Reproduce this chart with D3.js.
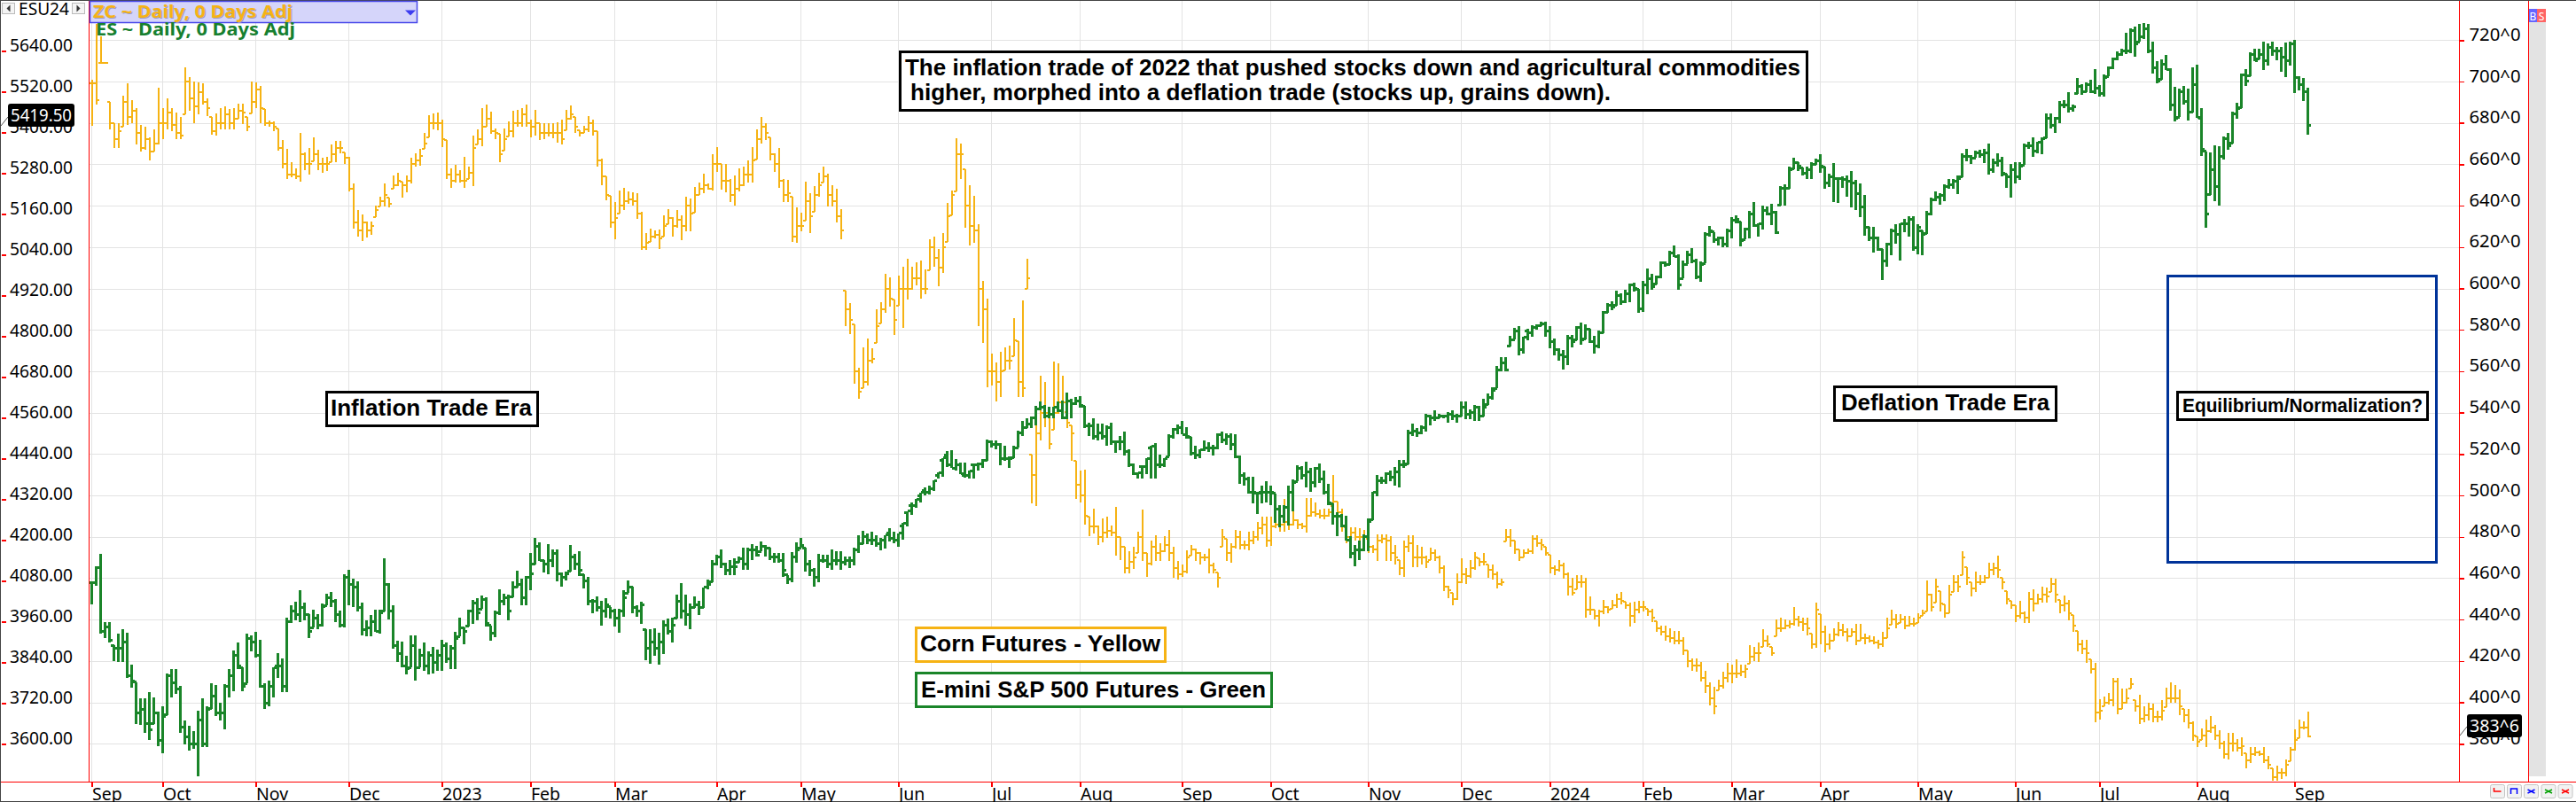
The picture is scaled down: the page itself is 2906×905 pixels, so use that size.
<!DOCTYPE html>
<html>
<head>
<meta charset="utf-8">
<script src="https://cdnjs.cloudflare.com/ajax/libs/d3/7.8.5/d3.min.js"></script>
<style>
html,body{margin:0;padding:0;background:#fff;overflow:hidden}
svg{display:block}
</style>
</head>
<body>
<svg id="chart" width="2906" height="905"></svg>
<script>
const esHigh=[
4077,4122,4159,3959,3959,3890,3925,3938,3926,3833,3781,3733,3733,3751,3736,3694,3711,3807,3820,3820,3771,3668,3652,3637,3698,
3733,3711,3777,3772,3720,3776,3820,3874,3898,3824,3923,3920,3929,3907,3777,3785,3824,3866,3851,3972,4007,4018,4052,4016,3981,
3994,3981,4012,4042,4046,4025,3991,4098,4112,4085,4077,4016,3964,3978,3994,3994,4146,4072,4009,3903,3901,3859,3920,3920,3881,
3898,3872,3885,3877,3907,3898,3890,3929,3972,3942,3994,4023,4029,4036,4032,3948,3992,4055,4042,4040,4077,4109,4087,4094,4162,
4207,4194,4142,4188,4172,4171,4103,4107,4186,4159,4168,4099,4090,4025,4035,4022,4029,4003,3997,3997,4052,4081,4063,4007,4017,
3937,3937,3939,3927,3964,3969,3971,4039,4074,4039,4012,4033,4022,4060,4083,4140,4156,4172,4134,4140,4145,4150,4177,4177,4188,
4182,4195,4184,4177,4161,4161,4161,4097,4163,4193,4206,4177,4140,4118,4159,4156,4156,4172,4166,4166,4150,4150,4177,4214,4227,
4219,4225,4215,4205,4215,4235,4225,4220,4250,4285,4310,4320,4340,4355,4360,4375,4398,4442,4461,4464,4437,4429,4429,4403,4424,
4429,4437,4496,4494,4494,4485,4477,4446,4477,4522,4550,4559,4563,4594,4609,4598,4591,4591,4609,4611,4635,4616,4620,4623,4594,
4546,4559,4542,4542,4538,4544,4494,4507,4518,4468,4424,4397,4420,4440,4477,4485,4450,4440,4511,4530,4541,4550,4533,4503,4477,
4468,4494,4487,4481,4513,4518,4513,4513,4511,4448,4398,4385,4385,4337,4359,4372,4359,4337,4303,4303,4359,4377,4420,4417,4431,
4411,4414,4424,4403,4365,4307,4281,4277,4272,4211,4185,4198,4216,4263,4342,4391,4385,4398,4403,4414,4435,4435,4524,4542,4529,
4537,4572,4568,4581,4572,4568,4577,4581,4572,4609,4607,4585,4598,4596,4616,4631,4650,4711,4739,4737,4800,4824,4830,4798,4822,
4833,4835,4842,4842,4829,4794,4765,4759,4804,4804,4829,4839,4836,4822,4802,4817,4875,4898,4903,4933,4927,4936,4956,4958,4939,
4963,4998,4983,4979,5020,5020,5050,5066,5042,5023,5052,5059,5029,5020,5107,5124,5107,5094,5094,5116,5150,5156,5137,5120,5168,
5194,5133,5183,5181,5190,5168,5242,5246,5298,5324,5311,5296,5298,5313,5322,5335,5298,5277,5310,5268,5270,5272,5285,5259,5249,
5216,5122,5122,5094,5057,5076,5116,5129,5133,5146,5153,5153,5129,5111,5168,5209,5226,5220,5246,5263,5263,5272,5337,5350,5333,
5346,5348,5350,5368,5322,5339,5327,5277,5307,5313,5313,5368,5372,5385,5372,5385,5455,5455,5444,5492,5494,5518,5481,5559,5542,
5548,5555,5585,5539,5570,5594,5620,5637,5646,5692,5707,5710,5720,5722,5720,5666,5609,5616,5629,5588,5533,5529,5536,5529,5590,
5600,5472,5344,5342,5361,5359,5387,5398,5461,5488,5572,5587,5635,5646,5646,5666,5661,5668,5652,5650,5664,5668,5672,5565,5559,5532];
const esLow=[
4010,4064,3925,3910,3898,3844,3842,3842,3794,3764,3659,3655,3633,3611,3659,3594,3572,3685,3737,3746,3633,3598,3581,3585,3503,
3590,3590,3703,3681,3668,3642,3737,3755,3820,3755,3777,3872,3855,3764,3703,3711,3737,3794,3751,3751,3955,3964,3959,3964,3911,
3942,3938,3945,4007,4003,3959,3942,3942,4007,4003,3990,3920,3916,3916,3929,3925,3990,3965,3881,3842,3826,3803,3824,3787,3824,
3816,3803,3807,3816,3816,3838,3820,3820,3916,3892,3946,3953,3964,3997,3946,3903,3913,3979,4007,3964,4032,4059,4007,4007,4051,
4129,4138,4103,4099,4120,4077,4062,4081,4107,4112,4094,4058,4007,3983,3990,3948,3972,3968,3946,3926,3975,4044,3985,3975,3954,
3847,3836,3860,3833,3863,3921,3897,3969,3969,3948,3937,3999,3980,4001,4055,4076,4124,4118,4097,4097,4097,4134,4113,4113,4140,
4150,4166,4150,4140,4134,4134,4092,4070,4076,4134,4177,4108,4095,4063,4076,4134,4118,4113,4124,4113,4124,4118,4124,4161,4188,
4188,4185,4180,4170,4175,4195,4190,4180,4200,4240,4275,4295,4310,4330,4335,4345,4381,4385,4416,4411,4403,4394,4383,4381,4381,
4403,4411,4433,4472,4468,4420,4433,4411,4442,4472,4507,4529,4529,4538,4581,4559,4559,4559,4577,4555,4555,4557,4598,4590,4529,
4505,4496,4494,4496,4478,4481,4457,4464,4449,4416,4390,4381,4381,4394,4381,4381,4411,4415,4446,4498,4510,4511,4498,4449,4437,
4442,4461,4459,4449,4468,4485,4481,4464,4442,4365,4359,4337,4307,4277,4307,4311,4303,4250,4237,4250,4242,4285,4372,4377,4355,
4342,4355,4368,4333,4303,4246,4211,4237,4198,4146,4122,4142,4168,4168,4259,4329,4365,4365,4372,4359,4355,4411,4423,4507,4503,
4511,4520,4537,4550,4559,4557,4546,4553,4544,4563,4555,4555,4550,4550,4563,4598,4614,4646,4696,4696,4770,4790,4744,4748,4788,
4798,4820,4829,4798,4765,4743,4727,4702,4715,4768,4788,4774,4791,4779,4748,4763,4809,4868,4876,4890,4892,4898,4901,4930,4868,
4870,4924,4937,4953,4970,5003,5009,5033,4937,4970,5011,5014,4968,4959,5014,5094,5076,5068,5061,5061,5089,5133,5064,5085,5087,
5122,5094,5113,5155,5127,5101,5185,5185,5233,5292,5287,5272,5263,5263,5303,5281,5235,5240,5194,5191,5237,5211,5179,5172,5150,
5096,5081,5046,5050,4965,5005,5037,5072,5023,5107,5094,5050,5042,5037,5101,5155,5198,5188,5197,5235,5233,5217,5268,5316,5307,
5324,5324,5310,5275,5281,5298,5270,5237,5207,5249,5261,5304,5350,5329,5339,5336,5383,5411,5397,5426,5472,5459,5461,5513,5511,
5518,5516,5513,5504,5504,5565,5585,5611,5626,5631,5633,5623,5666,5675,5633,5572,5544,5555,5583,5464,5433,5444,5481,5435,5457,
5443,5330,5120,5216,5197,5183,5320,5348,5368,5439,5472,5537,5566,5609,5616,5583,5597,5624,5611,5577,5562,5597,5516,5524,5492,5394];
const esClose=[
4075,4118,3930,3945,3905,3880,3880,3900,3800,3785,3690,3700,3660,3640,3690,3610,3680,3800,3780,3760,
3650,3620,3600,3600,3670,3600,3700,3740,3690,3690,3770,3800,3860,3830,3770,3910,3900,3860,3770,3720,
3770,3830,3830,3770,3960,3990,3980,4000,3980,3930,3970,3950,4005,4030,4020,3980,3950,4090,4070,4060,
4000,3935,3940,3960,3930,3985,4070,3990,3890,3865,3830,3820,3890,3825,3860,3830,3860,3840,3860,3890,
3850,3880,3910,3940,3930,3990,4015,3985,4025,3955,3925,3985,4020,4030,3990,4060,4070,4030,4090,4100,
4180,4140,4130,4140,4160,4100,4090,4100,4150,4130,4110,4080,4020,4020,4000,3990,4010,3990,3970,3990,
4030,4060,4000,3990,4010,3880,3900,3880,3900,3950,3930,3950,4020,3990,3980,4000,4010,4000,4060,4070,
4130,4150,4130,4110,4120,4120,4145,4130,4170,4170,4155,4180,4175,4150,4150,4140,4110,4085,4150,4170,
4185,4130,4110,4090,4140,4140,4130,4140,4140,4135,4140,4140,4170,4190,4210,4200,4200,4190,4200,4220,
4205,4200,4240,4280,4300,4300,4330,4345,4340,4350,4390,4435,4450,4420,4410,4420,4390,4390,4420,4420,
4425,4435,4490,4480,4480,4440,4440,4440,4470,4515,4530,4540,4560,4585,4590,4565,4570,4590,4580,4560,
4610,4600,4610,4595,4535,4535,4505,4515,4505,4530,4490,4490,4490,4460,4420,4395,4415,4415,4470,4475,
4420,4420,4440,4505,4525,4530,4510,4505,4455,4450,4465,4470,4470,4470,4510,4495,4505,4480,4445,4390,
4380,4340,4340,4340,4340,4340,4340,4290,4270,4295,4340,4370,4410,4390,4400,4370,4410,4380,4340,4310,
4270,4270,4240,4200,4160,4170,4170,4210,4255,4340,4375,4375,4395,4385,4400,4420,4420,4515,4520,4515,
4530,4565,4560,4560,4565,4565,4570,4565,4565,4590,4570,4575,4590,4565,4590,4620,4640,4700,4720,4700,
4790,4815,4760,4815,4810,4825,4830,4835,4815,4785,4760,4745,4740,4795,4785,4825,4790,4820,4785,4770,
4810,4870,4890,4885,4920,4900,4925,4950,4940,4880,4950,4970,4945,4975,5015,5010,5045,5035,4950,5010,
5040,5020,4975,5010,5100,5110,5085,5090,5070,5110,5140,5145,5080,5115,5160,5125,5130,5170,5160,5165,
5105,5235,5235,5290,5310,5300,5280,5290,5305,5315,5300,5250,5270,5265,5265,5260,5255,5250,5220,5180,
5120,5090,5090,5055,5020,5070,5110,5100,5130,5130,5145,5060,5120,5100,5160,5200,5210,5215,5240,5245,
5255,5265,5330,5330,5325,5340,5335,5340,5290,5310,5315,5280,5270,5290,5270,5300,5360,5360,5345,5370,
5380,5440,5420,5440,5480,5480,5470,5475,5535,5520,5540,5520,5530,5515,5560,5590,5615,5630,5640,5640,
5700,5660,5680,5705,5640,5590,5550,5600,5585,5480,5440,5520,5490,5460,5540,5440,5350,5160,5290,5240,
5330,5380,5360,5455,5470,5570,5550,5630,5610,5630,5610,5650,5640,5640,5620,5610,5660,5560,5540,5520,
5419.5];

const zcHigh=[
700.9,728,722,709.5,690,680,680,693,699,691,687,679,678,673,677,697,687,692,687,685,
683,707,702,700,699.4,699,692,683,684.5,687,688,686.6,687,689.4,689.4,683,700,699.4,698,686.6,
681,680.9,677.3,671.6,667.3,661,658,675,665.9,668,673,667,663,663.8,669.7,671.2,671.2,665.9,663.8,650.9,
638,635.9,632.4,632.4,640,644.5,650.6,643.8,654.5,655.9,651.6,654.5,663,665.2,667.3,675.2,683.6,684.4,685,681.5,
671.7,658,659.6,657.3,663.8,659,674,676.9,687,688.8,685.3,677.4,674.8,677.4,680.9,685.7,686.2,687,688.8,681.8,
686.2,680,679.7,680,680,680.4,681.5,686.2,688.5,682.7,676.6,678.7,683.2,681.5,676.2,662.6,654.2,644.8,641.6,647.2,
648.6,646.9,646.5,646,637.2,626.8,629,628,628.5,635.5,638.5,634.6,638.1,635.5,644.2,643.4,649,651.2,655.6,650.7,
664.7,668.2,660,660,653,654.7,658.2,658.7,661.7,668.2,676.9,682.7,680,673,665.2,667.8,653,652.4,644.2,639,
636.7,651.8,646,649.5,656.1,658.7,655.6,649.8,648.1,638.5,598.8,593.1,582.8,561.7,571.7,575.7,571,589.8,593.4,606.9,
605.2,594.5,606.2,610.5,614.4,610.7,612.7,613.5,609.2,623.8,624.9,619,626.6,641.2,647.3,672.6,670.2,657.6,649.8,644.8,
630.9,603.5,595,568.4,564.1,569.3,571.7,572.4,585.5,574.5,594.1,614.5,519.9,543.1,557.9,554.8,538.1,564.5,563.8,557.9,
540.3,533.9,516.7,512.2,512.4,489.6,493.6,485.3,488.9,489.9,485.3,494.6,479.9,475.1,473.2,475.1,482.5,493.2,472.2,478.2,
480.8,477.1,480.3,483.2,475.1,468.2,466.5,473.6,476,474.2,472.8,471.8,474.2,467.5,462.8,483.6,478.9,477.1,483.2,482.8,
478.2,482.5,482.8,487,489.6,489.9,489.9,488.2,491.8,498.4,488.9,498.2,488.5,486.8,498.9,498.9,496.7,493.2,493.6,493.6,
509.9,497,493.6,484.6,484.6,484.6,484.2,483.2,478.9,476,481.3,481,481.3,480.3,476,468.9,478.2,480.8,480.8,476,
475.1,470.8,474.6,473.9,470.8,466,456.5,452.8,462.5,469.6,465,468.9,472.7,469.6,472.2,466.7,466.7,463.2,459.9,483.9,
483.6,478.2,473.9,473.9,474.2,480.7,480.7,478.9,475,471.3,466,468.9,467.4,462.7,460.3,461.7,461.7,460.3,451.3,444.6,
445,449.6,446.5,449.6,452.7,453.2,448.5,448.2,448.6,448.9,448.9,445.3,445.3,439.3,437,437,436,434.6,434.6,431.3,
425,421.3,421.3,419.6,415.4,409.6,407.5,411,414.6,418.9,418.2,420.8,418.2,418.2,427.5,426.8,428.9,435.3,432.5,426.8,
439.9,440.8,439.9,439.6,446,441.8,441,441,433.2,448.2,442.5,437,433.2,436,438.9,437.9,436,436,437.9,437.9,
433.2,432.2,431.8,430.3,434.2,441,444.6,442.5,442.5,441.8,441.8,441,443,444.6,458.9,452.5,459.6,453.9,447.5,456.7,
461.7,461.7,473.2,465.3,458.2,463.2,461.7,461.7,467.4,467.4,471,460.3,453.9,448.9,446.8,448.9,443.9,453.2,454.6,452.5,
456,455.3,460.3,459.9,449.6,451.7,449.6,442.2,434.6,430.3,430.3,421,418.9,401.4,402.8,404.6,412,412,406.8,406.8,
411.8,400.9,403.6,398,400,399.4,396.1,401.1,407.1,409.7,408.6,406.4,396.9,396.9,390.7,383.7,387.6,391.9,393.3,389,
386.6,381.2,385.4,385.2,382.2,383.3,375.5,378.6,378.6,376.9,378.3,374,368.3,369.3,368.3,372.6,378.6,386.9,391.9,390.9,
395.4];
const zcLow=[
678.7,689,709,709,677,668,668,678,679,680,669.5,666,667,662,666,669.5,672,677,676,672,
672,684,686,680,684,689,683.5,674.5,674,677,677,677,677,682,679.5,676,684.4,687.3,680,678.7,
678.3,675.9,666.6,658,653,653.8,653,651.6,657.3,655,661.6,657.3,655.9,656.6,660.9,660.9,665.2,660.2,646.9,628.8,
625,623,624.5,626,634.5,639.5,639.5,639,648,649.5,644,646.6,650.9,658.8,659.2,667.3,673,676.9,676.6,668.2,
653,648.6,651.2,651.2,648.6,653,649.5,669.6,668.7,678.3,674.8,672.2,661.2,666.4,673.4,673,678.3,678.3,678.3,673,
674,671.7,672.2,673.4,672.7,670.5,669.6,676.6,681.8,675.2,673.4,675.2,675.7,673.9,658.7,650,642.5,629.4,623.8,636,
638.1,640.7,639.9,633.8,618.5,618.5,622.4,624.1,619.2,625,631.1,625,629.4,623.3,627.6,627.6,636.7,645.1,646,647.7,
647.2,656.5,647.7,646.5,641.6,640.2,646.9,649.5,651.2,651.2,662.2,669.9,671.7,661.7,656.5,648.6,641.6,641.6,622.4,621.9,
627.6,632.9,626.8,637.2,644.2,651.2,639.5,639.5,632,623.8,581.8,578.1,554.1,546.7,551.7,553.1,563.8,573.8,583.1,588.1,
591.2,577.4,591.7,581,594.5,599.2,601.7,595.2,597.4,608.8,610.7,601.2,607.4,622.4,635.5,646.9,653,629.2,620.9,622.1,
582,573.8,552.1,553.1,545.6,547.4,560.3,561,567.4,547.4,547.4,599.8,496,495,526.7,533.2,522.4,531.7,539.6,536.7,
532.4,516.7,498.2,496.7,486,480.3,481.8,476,477.5,479.6,480.3,470.8,468.9,462.2,462.2,464.6,472.2,468.2,460.8,466.1,
468.5,468.5,472.5,468.2,460.3,459.4,460.8,462.5,471.1,468.2,466.8,468.2,462.5,462.5,455.6,475.1,468.2,467.5,474.2,473.9,
473.9,473.6,476.5,478.2,481.1,475.3,475.6,484.2,482.5,482.5,483.2,485.6,483.9,483.9,482.2,489.6,489.6,488.9,488.5,489.6,
495,489.6,482.5,476.8,478.5,478.2,478.2,478.9,472.2,472.2,468.2,477.1,468.2,468.5,466.8,461.4,460.8,472.5,465.3,465.3,
466.8,465.1,468.9,468.2,462.5,453.6,450.4,447.1,449.6,457.5,457,460.3,464.2,465.6,466,460.3,459.3,455,456.5,477.9,
475.3,471.7,468.2,469.9,471.7,471.7,475.3,473.6,470.7,462.5,461.7,463.2,459.9,451.7,451.7,454.6,455.3,441,442.2,439.9,
436.8,442.8,443.2,445.3,445.6,447.5,445.3,436.5,438.2,443.2,443.9,441.8,438.9,433.9,432.5,429.6,428.8,427.9,428.2,422.8,
417,415.4,415,409.9,404.6,398.5,394.2,406,406.8,409.6,409.4,411.8,412.5,411.8,418.5,419.9,419.6,426.8,426.8,422.5,
431.8,433.9,435.3,436,437,436.8,434.6,432.5,426,426.5,428.2,424.2,425.6,429.6,431.8,431.8,429.3,431.8,427.5,429.6,
428.2,428.9,428.2,426,426.8,431,437.5,436,438.2,435.3,436.8,436.8,438.5,441.8,443.9,443.9,448.2,443.9,441,443.2,
453.2,453.2,461.7,456.7,451,453.2,456.7,457.5,460.3,461.7,460.3,454.6,447.5,445.3,438.9,440.3,438.2,438.2,443.9,447.5,
448.2,448.2,453.2,448.2,443.2,443.9,439.6,434.2,424.6,423.2,418.9,413.9,390.4,391.8,398.2,399,398.2,394.2,396.8,399.6,
406.8,395.4,389.4,390.4,391.2,390.4,390.4,391.2,397.6,399.7,399.7,394,390.4,387.6,381.4,378.3,381.9,378.6,385.4,381.9,
377.6,372.9,372.6,376.2,376.2,374,368,370.5,374,374,370.9,367.6,362.3,362.3,362.9,364.3,371.5,376.9,382.9,386.9,
383.3];
const zcClose=[
699,691,709,709,680,672,676,690,683,686,675,668,672,666,670,680,680,685,679,675,
674,700,692,688,695,690,687,676,680,680,684,680,682,686,685,678,690,696,687,680,
680,678,668,660,655,655,654,665,660,660,665,660,660,660,665,668,668,663,648,632,
628,632,628,630,638,642,645,641,650,652,650,652,660,662,664,670,680,680,680,672,
655,652,655,652,652,656,668,672,678,682,676,675,665,672,676,680,680,684,680,678,
680,675,675,675,675,675,672,682,684,678,675,677,680,676,662,654,645,632,634,640,
642,643,642,636,620,622,625,626,624,630,634,630,633,630,640,636,645,648,650,648,
660,660,652,652,645,648,650,655,655,662,672,678,675,665,660,652,645,646,625,630,
630,642,635,645,650,654,645,642,635,628,590,585,560,550,555,565,566,582,590,600,
595,585,600,600,600,605,605,600,600,620,615,610,620,635,645,665,665,640,630,628,
600,590,560,560,555,560,565,565,575,555,552,605,510,530,540,540,525,540,545,545,
535,530,505,500,490,485,485,480,482,483,482,480,475,465,468,470,480,472,467,475,
472,473,476,472,465,462,463,470,474,472,470,470,466,464,460,480,472,475,480,476,
476,478,480,484,486,478,485,486,486,487,486,488,486,485,490,492,491,490,490,492,
497,492,485,480,482,480,480,480,475,474,478,479,478,472,470,465,475,477,470,470,
470,468,472,470,465,456,454,450,458,462,461,465,470,468,468,464,462,457,458,480,
478,474,470,472,473,479,477,476,472,465,464,466,462,456,453,458,458,445,445,442,
444,446,445,447,450,449,447,442,445,446,446,444,441,436,434,432,431,430,430,425,
420,418,418,412,408,402,398,408,412,414,414,414,415,416,422,424,424,430,428,424,
436,436,437,438,440,439,438,436,428,445,434,428,430,433,435,434,432,434,430,431,
431,430,429,428,431,436,440,438,440,437,438,438,441,443,452,446,456,448,443,452,
458,456,470,460,455,458,458,460,464,465,464,458,450,447,442,443,441,450,448,450,
452,451,457,452,447,448,443,437,428,426,424,416,395,396,400,401,410,397,400,402,
409,398,392,394,397,393,393,396,402,402,402,398,394,390,384,381,384,386,388,384,
380,375,380,380,378,379,372,375,376,375,372,370,364,366,366,370,377,382,388,388,
383.75];

const monthIndex=[0,16,37,58,79,99,118,141,160,182,203,223,246,266,288,309,329,350,370,390,412,434,453,475,497];
const monthLabels=["Sep","Oct","Nov","Dec","2023","Feb","Mar","Apr","May","Jun","Jul","Aug","Sep","Oct","Nov","Dec","2024","Feb","Mar","Apr","May","Jun","Jul","Aug","Sep"];
const esTicks=[5640,5520,5400,5280,5160,5040,4920,4800,4680,4560,4440,4320,4200,4080,3960,3840,3720,3600];
const zcTicks=[720,700,680,660,640,620,600,580,560,540,520,500,480,460,440,420,400,380];
const symbolText="ESU24", zcLegend="ZC ~ Daily, 0 Days Adj", esLegend="ES ~ Daily, 0 Days Adj";
const zcLast="383^6";

const FONT="'Noto Sans',sans-serif", BOLD="'Liberation Sans',Arial,sans-serif";
const RED="#ff0000",GRID="#e3e3e3",GREEN="#1a8529",GOLD="#f6b314",NAVY="#003399";

const svg=d3.select("#chart");
const W=2906,H=905,axisL=100.5,axisR=2774.5,axisS=2852.5,axisB=882.5;
const x=d3.scaleLinear().domain([0,500]).range([103.5,2603.5]);
const yES=d3.scaleLinear().domain([5640,3600]).range([57.3,839.3]);
const yZC=d3.scaleLinear().domain([720,380]).range([45.3,839.3]);

svg.append("rect").attr("width",W).attr("height",H).attr("fill","#fff");

// grid
const grid=svg.append("g").attr("shape-rendering","crispEdges").attr("stroke",GRID).attr("stroke-width",1);
grid.selectAll(".h").data(zcTicks).join("line").attr("x1",axisL).attr("x2",axisR)
  .attr("y1",d=>Math.round(yZC(d))+.5).attr("y2",d=>Math.round(yZC(d))+.5);
grid.selectAll(".v").data(monthIndex).join("line").attr("y1",0).attr("y2",axisB)
  .attr("x1",d=>Math.floor(x(d))+.5).attr("x2",d=>Math.floor(x(d))+.5);

// OHLC-style bars: open tick is taken at the previous close, kept inside the bar's range
function drawBars(high,low,close,scale,color,w,t){
  const clamp=(v,i)=>Math.max(low[i],Math.min(high[i],v));
  svg.append("g").attr("fill","none").attr("stroke",color).attr("stroke-width",w)
    .attr("shape-rendering","crispEdges")
    .selectAll("path").data(high).join("path").attr("d",(d,i)=>{
      const px=x(i),o=scale(clamp(i?close[i-1]:close[i],i)),c=scale(clamp(close[i],i));
      return `M${px},${scale(high[i])}V${scale(low[i])}M${px-t},${o}H${px}M${px},${c}H${px+t}`;
    });
}
drawBars(zcHigh,zcLow,zcClose,yZC,GOLD,2,3);
drawBars(esHigh,esLow,esClose,yES,GREEN,3,3.5);

// frame lines
const frame=svg.append("g").attr("shape-rendering","crispEdges");
frame.append("rect").attr("x",2853).attr("y",25).attr("width",19).attr("height",851).attr("fill","#e3e3e3");
[[axisL,0,axisL,axisB],[axisR,0,axisR,axisB],[axisS,0,axisS,axisB],[0,axisB,W,axisB]].forEach(l=>
  frame.append("line").attr("x1",l[0]).attr("y1",l[1]).attr("x2",l[2]).attr("y2",l[3]).attr("stroke",RED).attr("stroke-width",1.5));
[[0,.5,W,.5],[.5,0,.5,H],[0,H-.5,W,H-.5]].forEach(l=>
  frame.append("line").attr("x1",l[0]).attr("y1",l[1]).attr("x2",l[2]).attr("y2",l[3]).attr("stroke","#444").attr("stroke-width",1));

// axes
function styleAxis(g){g.select(".domain").remove();g.selectAll("line").attr("stroke",RED).attr("stroke-width",1.5).attr("shape-rendering","crispEdges");
  g.selectAll("text").attr("fill","#000").attr("font-family",FONT).attr("font-size",19.5).attr("dy",0);}
svg.append("g").attr("transform","translate(7,0)")
  .call(d3.axisLeft(yES).tickValues(esTicks).tickSize(5).tickFormat(d3.format(".2f"))).call(styleAxis)
  .selectAll("text").attr("x",4).attr("text-anchor","start").attr("textLength",71).attr("lengthAdjust","spacingAndGlyphs");
svg.append("g").attr("transform",`translate(${axisR},0)`)
  .call(d3.axisRight(yZC).tickValues(zcTicks).tickSize(5).tickFormat(d=>d+"^0")).call(styleAxis)
  .selectAll("text").attr("x",11).attr("text-anchor","start").attr("textLength",58).attr("lengthAdjust","spacingAndGlyphs");
svg.append("g").attr("transform",`translate(0,${axisB})`)
  .call(d3.axisBottom(x).tickValues(monthIndex).tickSize(5).tickFormat((d,i)=>monthLabels[i])).call(styleAxis)
  .selectAll("text").attr("text-anchor","start").attr("y",20.5);

// last-price pills
function pill(px,py,w,h,txt,lx1,ly1,lx2,ly2,fs){
  svg.append("line").attr("x1",lx1).attr("y1",ly1).attr("x2",lx2).attr("y2",ly2).attr("stroke","#555");
  svg.append("rect").attr("x",px).attr("y",py).attr("width",w).attr("height",h).attr("rx",3).attr("fill","#000");
  svg.append("text").attr("x",px+w/2).attr("y",py+h-6).attr("text-anchor","middle").attr("fill","#fff")
    .attr("font-family",FONT).attr("font-size",fs).attr("textLength",w-6).attr("lengthAdjust","spacingAndGlyphs").text(txt);
}
pill(9,117,75,26,d3.format(".2f")(esClose[esClose.length-1]),1,142,9,132,19.5);
pill(2783,806,62,26,zcLast,2775,830,2783,820,19.5);

// symbol selector
function btn(bx,dir){
  svg.append("rect").attr("x",bx+.5).attr("y",3.5).attr("width",14).attr("height",12).attr("fill","#f4f4f4").attr("stroke","#bbb");
  const c=bx+7.5;
  svg.append("path").attr("d",dir<0?`M${c+2},5.5L${c-2},9.5L${c+2},13.5Z`:`M${c-2},5.5L${c+2},9.5L${c-2},13.5Z`).attr("fill","#333");
}
btn(2,-1);btn(81,1);
svg.append("text").attr("x",21).attr("y",17).attr("font-family",FONT).attr("font-size",19).attr("textLength",57).attr("lengthAdjust","spacingAndGlyphs").text(symbolText);

// study legend
svg.append("rect").attr("x",101.5).attr("y",1.5).attr("width",369).attr("height",24).attr("fill","#d5d5fa").attr("stroke","#4848ea").attr("stroke-width",1.5);
svg.append("path").attr("d","M457,11.5H469L463,17.5Z").attr("fill","#3c3cf0");
const leg=(t,lx,ly,c)=>svg.append("text").attr("x",lx).attr("y",ly).attr("font-family","'Noto Sans',sans-serif").attr("font-weight","bold").attr("font-size",19)
  .attr("textLength",225).attr("lengthAdjust","spacingAndGlyphs").attr("fill",c).text(t);
leg(zcLegend,106,21,"#9a9ac4");leg(zcLegend,105,20,GOLD);leg(esLegend,108,40,"#178030");

// B / S
svg.append("rect").attr("x",2853).attr("y",10).attr("width",9).attr("height",15).attr("fill","#6464ff");
svg.append("rect").attr("x",2862).attr("y",10).attr("width",10).attr("height",15).attr("fill","#ff6464");
[["B",2857.5],["S",2867]].forEach(a=>svg.append("text").attr("x",a[1]).attr("y",22.5).attr("text-anchor","middle").attr("fill","#fff").attr("font-family",FONT).attr("font-size",12).text(a[0]));

// toolbar buttons
[[2809,"#ff0000"],[2828,"#0000ff"],[2847,"#0000ff"],[2866.5,"#00a000"],[2885.5,"#ff0000"]].forEach((b,i)=>{
  svg.append("rect").attr("x",b[0]+.5).attr("y",885.5).attr("width",16).attr("height",15).attr("rx",2).attr("fill","#f2f2f2").attr("stroke","#c4c4c4");
  const cx=b[0]+8.5;
  const d=i==0?`M${cx-4},889V893H${cx+4}`:i==1?`M${cx-4},896V890H${cx+3}V896`:`M${cx-4},891L${cx},893L${cx+4},891M${cx-4},895L${cx},893L${cx+4},895`;
  svg.append("path").attr("d",d).attr("fill","none").attr("stroke",b[1]).attr("stroke-width",1.5);
});

// annotations
function note(bx,by,bw,bh,stroke,lines,fs){
  svg.append("rect").attr("x",bx).attr("y",by).attr("width",bw).attr("height",bh).attr("fill","#fff").attr("stroke",stroke).attr("stroke-width",3).attr("shape-rendering","crispEdges");
  lines.forEach(l=>svg.append("text").attr("x",l[1]).attr("y",l[2]).attr("font-family",BOLD).attr("font-weight","bold").attr("font-size",fs)
    .attr("textLength",l[3]).attr("lengthAdjust","spacingAndGlyphs").attr("fill","#000").text(l[0]));
}
note(1015.5,58.5,1023,66,"#000",[
  ["The inflation trade of 2022 that pushed stocks down and agricultural commodities",1021,85,1010],
  ["higher, morphed into a deflation trade (stocks up, grains down).",1027,113,790]],26);
note(368.5,442.5,238,38,"#000",[["Inflation Trade Era",373,469,227]],26);
note(2069.5,436.5,250,38,"#000",[["Deflation Trade Era",2077,463,235]],26);
note(2456.5,442.5,282,31,"#000",[["Equilibrium/Normalization?",2462,465,271]],22);
note(1033.5,708.5,281,38,GOLD,[["Corn Futures - Yellow",1038,735,271]],25);
note(1033.5,759.5,401,38,GREEN,[["E-mini S&P 500 Futures - Green",1039,787,389]],25);
svg.append("rect").attr("x",2445.5).attr("y",311.5).attr("width",303).attr("height",323).attr("fill","none").attr("stroke",NAVY).attr("stroke-width",3).attr("shape-rendering","crispEdges");
</script>
</body>
</html>
